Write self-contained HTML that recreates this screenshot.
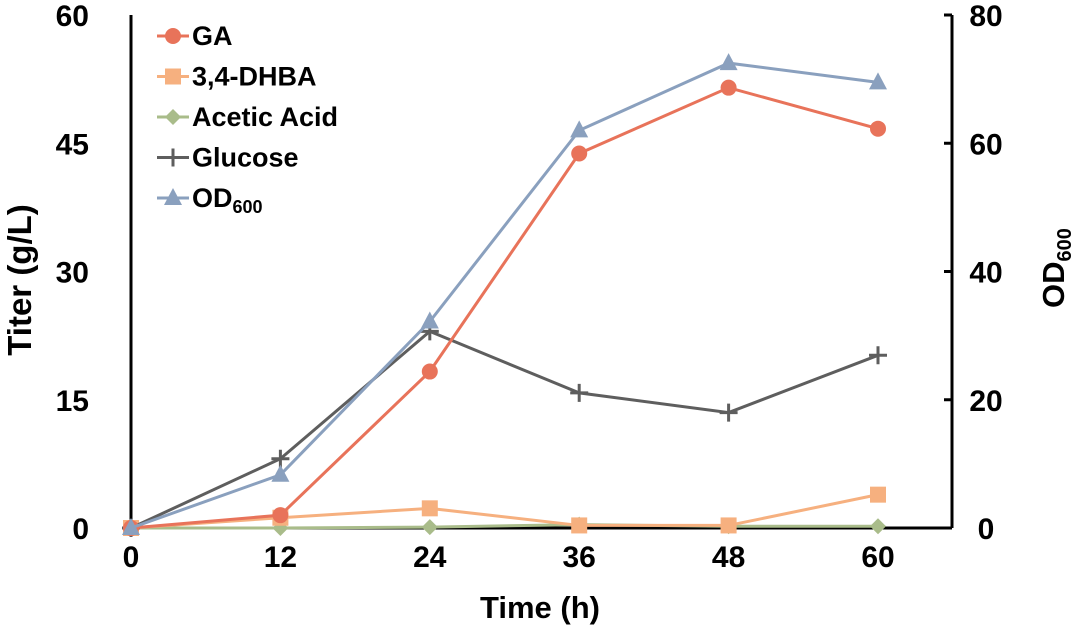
<!DOCTYPE html>
<html><head><meta charset="utf-8"><style>
body{margin:0;background:#fff;}
svg{display:block;font-family:"Liberation Sans",Arial,sans-serif;font-weight:bold;}
</style></head><body>
<svg id="chart" width="1080" height="635" viewBox="0 0 1080 635" xmlns="http://www.w3.org/2000/svg"></svg>
<script>
const times=[0,12,24,36,48,60];
const gaValues=[0,1.5,18.3,43.8,51.5,46.7];
const dhbaValues=[0,1.2,2.3,0.3,0.3,3.9];
const aceticValues=[0,0,0.1,0.4,0.2,0.2];
const glucoseValues=[0,8.1,23,15.8,13.5,20.2];
const odValues=[0,8.3,32.2,62,72.5,69.5];
const xTicks=[0,12,24,36,48,60];
const yLeftTicks=[0,15,30,45,60];
const yRightTicks=[0,20,40,60,80];

const NS="http://www.w3.org/2000/svg";
const svg=document.getElementById('chart');
const X0=131,X1=878,Y0=528,Y1=15,RX=952;
const xs=v=>X0+(v/60)*(X1-X0);
const yl=v=>Y0-(v/60)*(Y0-Y1);
const yr=v=>Y0-(v/80)*(Y0-Y1);
function mk(tag,attrs,parent){const e=document.createElementNS(NS,tag);for(const k in attrs)e.setAttribute(k,attrs[k]);(parent||svg).appendChild(e);return e;}

let a=mk('line',{x1:X0,y1:Y1,x2:X0,y2:Y0,stroke:'#000','stroke-width':3});


a=mk('line',{x1:X0,y1:Y0,x2:RX,y2:Y0,stroke:'#000','stroke-width':3});


a=mk('line',{x1:RX,y1:Y1,x2:RX,y2:Y0,stroke:'#000','stroke-width':3});



yLeftTicks.forEach(v=>{
  const t=mk('text',{x:89,y:yl(v)+11,'text-anchor':'end','font-size':30});
  t.textContent=v;
  
  
});
yRightTicks.forEach(v=>{
  const l=mk('line',{x1:RX-8,y1:yr(v),x2:RX,y2:yr(v),stroke:'#000','stroke-width':3});
  
  
  const t=mk('text',{x:986,y:yr(v)+11,'text-anchor':'middle','font-size':30});
  t.textContent=v;
  
  
});
xTicks.forEach(v=>{
  const t=mk('text',{x:xs(v),y:567,'text-anchor':'middle','font-size':30});
  t.textContent=v;
  
  
});
let t=mk('text',{x:540,y:618,'text-anchor':'middle','font-size':31});
t.textContent='Time (h)';


t=mk('text',{x:0,y:0,'text-anchor':'middle','font-size':33,transform:'translate(31,280) rotate(-90)'});
t.textContent='Titer (g/L)';


t=mk('text',{x:0,y:0,'text-anchor':'middle','font-size':31,transform:'translate(1064,268) rotate(-90)'});
t.innerHTML='OD<tspan font-size="20" dy="7">600</tspan>';



function marker(kind,x,y,c,g){
  let m;
  if(kind==='circle')m=mk('circle',{cx:x,cy:y,r:8,fill:c},g);
  else if(kind==='square')m=mk('rect',{x:x-8,y:y-8,width:16,height:16,fill:c},g);
  else if(kind==='diamond')m=mk('polygon',{points:`${x},${y-8} ${x+8},${y} ${x},${y+8} ${x-8},${y}`,fill:c},g);
  else if(kind==='plus')m=mk('path',{d:`M${x-9},${y}H${x+9}M${x},${y-9}V${y+9}`,stroke:c,'stroke-width':3},g);
  else m=mk('polygon',{points:`${x},${y-10} ${x+9},${y+7} ${x-9},${y+7}`,fill:c},g);
  
  
}
const series=[
  {name:'acetic-acid',vals:aceticValues,c:'#a9bc8a',k:'diamond',sc:yl},
  {name:'dhba',vals:dhbaValues,c:'#f6b07f',k:'square',sc:yl},
  {name:'glucose',vals:glucoseValues,c:'#5e5e5e',k:'plus',sc:yl},
  {name:'ga',vals:gaValues,c:'#e8735a',k:'circle',sc:yl},
  {name:'od600',vals:odValues,c:'#8aa0be',k:'tri',sc:yr},
];
series.forEach(s=>{
  const g=mk('g',{});
  
  
  const pts=s.vals.map((v,i)=>xs(times[i])+','+s.sc(v)).join(' ');
  const pl=mk('polyline',{points:pts,fill:'none',stroke:s.c,'stroke-width':3},g);
  
  
  s.vals.forEach((v,i)=>marker(s.k,xs(times[i]),s.sc(v),s.c,g));
});

const leg=[['GA','#e8735a','circle'],['3,4-DHBA','#f6b07f','square'],['Acetic Acid','#a9bc8a','diamond'],['Glucose','#5e5e5e','plus'],['OD','#8aa0be','tri']];
const lg=mk('g',{});


leg.forEach((e,i)=>{
  const y=36+i*40.5;
  const l=mk('line',{x1:157,y1:y,x2:189,y2:y,stroke:e[1],'stroke-width':3},lg);
  
  
  marker(e[2],173,y,e[1],lg);
  const tx=mk('text',{x:192,y:y+9,'font-size':27},lg);
  if(i===4)tx.innerHTML='OD<tspan font-size="18" dy="6">600</tspan>';else tx.textContent=e[0];
  
  
});
</script>
</body></html>
